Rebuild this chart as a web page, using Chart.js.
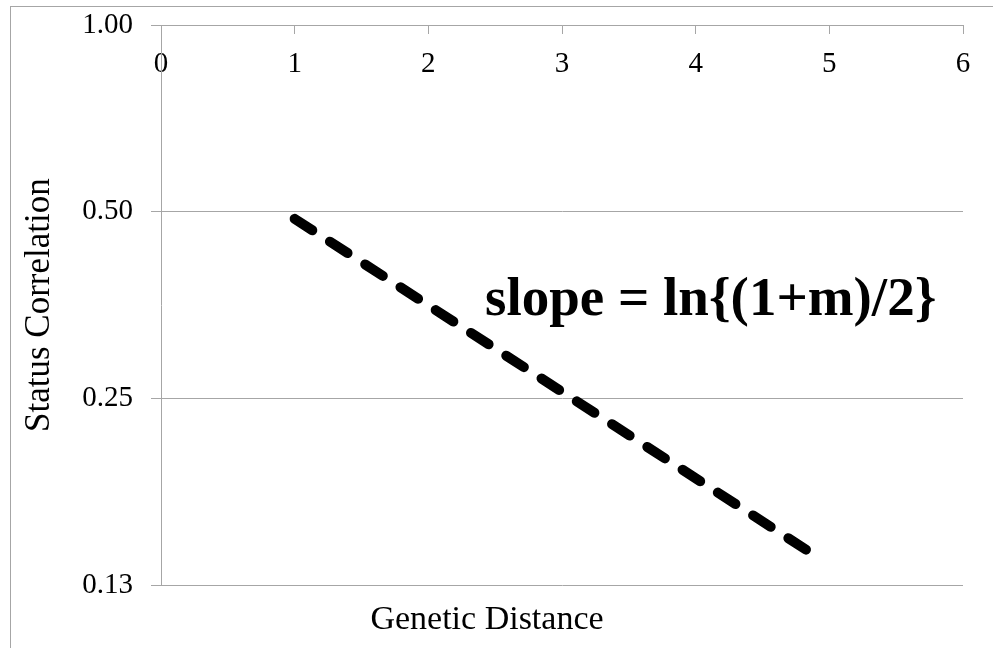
<!DOCTYPE html>
<html>
<head>
<meta charset="utf-8">
<script src="https://cdn.jsdelivr.net/npm/chart.js@4"></script>
<style>
  html, body { margin: 0; padding: 0; background: #fff; overflow: hidden; }
  #marco {
    position: absolute; left: 10px; top: 6px;
    width: 1000px; height: 700px;
    border: 1px solid #a6a6a6;
  }
  #grafica { display: block; }
</style>
</head>
<body>
<div id="marco">
  <canvas id="grafica" width="982" height="641"></canvas>
</div>
<script>
// datos
const distancias = [1, 4.87];
const correlaciones = [0.487, 0.1406];
const yTicks = [0.125, 0.25, 0.5, 1];
const yTickLabels = ['0.13', '0.25', '0.50', '1.00'];
const xTicks = [0, 1, 2, 3, 4, 5, 6];
const anotacion = 'slope = ln{(1+m)/2}';

const serif = "'Liberation Serif', 'DejaVu Serif', serif";
const gris = '#a6a6a6';

// texto de la pendiente dentro del area del grafico
const textoPendiente = {
  id: 'textoPendiente',
  afterDatasetsDraw(chart) {
    const { ctx, chartArea } = chart;
    ctx.save();
    ctx.font = "bold 55px " + serif;
    ctx.fillStyle = '#000';
    ctx.textBaseline = 'alphabetic';
    ctx.textAlign = 'left';
    ctx.fillText(anotacion, chartArea.left + 324, chartArea.top + 290);
    ctx.restore();
  }
};

const ctx = document.getElementById('grafica').getContext('2d');
const chart = new Chart(ctx, {
  type: 'line',
  data: {
    datasets: [{
      data: distancias.map((d, i) => ({ x: d, y: correlaciones[i] })),
      borderColor: '#000',
      borderWidth: 10,
      borderDash: [21, 21],
      borderCapStyle: 'round',
      pointRadius: 0,
      fill: false
    }]
  },
  options: {
    responsive: false,
    animation: false,
    layout: { padding: { left: 0, right: 30, top: 18, bottom: 0 } },
    plugins: {
      legend: { display: false },
      tooltip: { enabled: false },
      title: {
        display: true,
        position: 'bottom',
        text: 'Genetic Distance',
        color: '#000',
        font: { family: serif, size: 34, weight: 'normal' },
        padding: { top: 14, bottom: 8 }
      }
    },
    scales: {
      x: {
        type: 'linear',
        position: { y: 1 },
        min: 0,
        max: 6,
        afterBuildTicks: s => { s.ticks = xTicks.map(v => ({ value: v })); },
        grid: { drawOnChartArea: false, color: gris, tickLength: 8 },
        border: { color: gris },
        ticks: {
          color: '#000',
          font: { family: serif, size: 29 },
          padding: 14,
          maxRotation: 0
        }
      },
      y: {
        type: 'logarithmic',
        min: 0.125,
        max: 1,
        afterBuildTicks: s => { s.ticks = yTicks.map(v => ({ value: v })); },
        afterFit: s => { s.width = 150; s.paddingTop = 0; s.paddingBottom = 0; },
        grid: { color: gris, tickLength: 10 },
        border: { color: gris },
        ticks: {
          color: '#000',
          font: { family: serif, size: 29 },
          padding: 18,
          callback: (v) => yTickLabels[yTicks.indexOf(v)]
        },
        title: {
          display: true,
          text: 'Status Correlation',
          color: '#000',
          font: { family: serif, size: 35 },
          padding: { top: 8, bottom: 0 }
        }
      }
    }
  },
  plugins: [textoPendiente]
});
</script>
</body>
</html>
